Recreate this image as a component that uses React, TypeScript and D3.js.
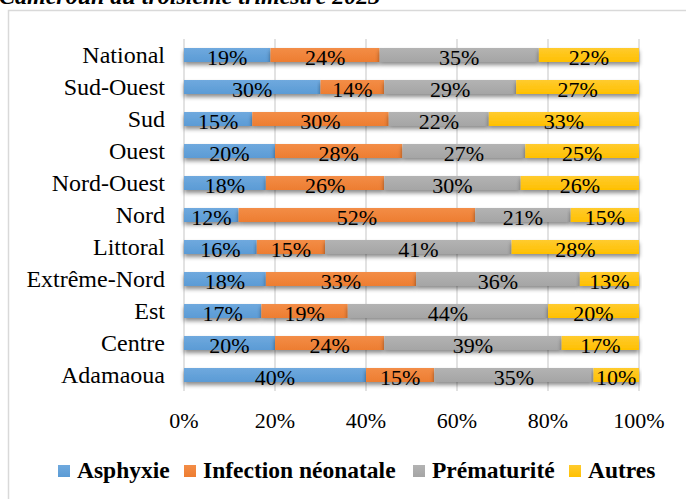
import React from "react";
import * as d3 from "d3";

const categories = ["National", "Sud-Ouest", "Sud", "Ouest", "Nord-Ouest", "Nord", "Littoral", "Extrême-Nord", "Est", "Centre", "Adamaoua"];
const seriesNames = ["Asphyxie", "Infection néonatale", "Prématurité", "Autres"];
const asphyxie = [19, 30, 15, 20, 18, 12, 16, 18, 17, 20, 40];
const infection = [24, 14, 30, 28, 26, 52, 15, 33, 19, 24, 15];
const prematurite = [35, 29, 22, 27, 30, 21, 41, 36, 44, 39, 35];
const autres = [22, 27, 33, 25, 26, 15, 28, 13, 20, 17, 10];
const xTicks = [0, 20, 40, 60, 80, 100];
const title = "Cameroun au troisième trimestre 2023";

const colors = ["#5B9BD5", "#ED7D31", "#A5A5A5", "#FFC000"];
const lightColors = ["#6FA9DE", "#F38D47", "#B3B3B3", "#FFCB2E"];

const W = 686;
const H = 499;
const FONT = `"Liberation Serif", "Times New Roman", monospace`;

export default function App() {
  const series = [asphyxie, infection, prematurite, autres];
  const x = d3.scaleLinear().domain([0, 100]).range([184, 639]);
  const y = d3
    .scaleBand<string>()
    .domain(categories)
    .range([39, 391])
    .paddingInner(0.5625)
    .paddingOuter(0.28125);

  const rows = categories.map((c, i) => {
    const vals = series.map((s) => s[i]);
    const stacked = d3.cumsum(vals);
    return vals.map((v, k) => ({
      cat: c,
      k,
      v,
      x0: k === 0 ? 0 : stacked[k - 1],
      x1: stacked[k],
    }));
  });

  const legendItems = [
    { sq: 58, tx: 77 },
    { sq: 184, tx: 203 },
    { sq: 413, tx: 432 },
    { sq: 569, tx: 588 },
  ];

  const txt = (size: number, bold = false, italic = false): React.CSSProperties => ({
    fontFamily: FONT,
    fontSize: size,
    fontWeight: bold ? "bold" : "normal",
    fontStyle: italic ? "italic" : "normal",
  });

  return (
    <svg
      width={W}
      height={H}
      style={{ position: "absolute", left: 0, top: 0, background: "#fff" }}
    >
      <defs>
        {colors.map((c, i) => (
          <linearGradient key={i} id={`g${i}`} x1="0" y1="0" x2="0" y2="1">
            <stop offset="0" stopColor={lightColors[i]} />
            <stop offset="1" stopColor={c} />
          </linearGradient>
        ))}
        <filter id="shadow" x="-5%" y="-40%" width="110%" height="200%">
          <feDropShadow dx="0" dy="3" stdDeviation="2" floodColor="#000" floodOpacity="0.45" />
        </filter>
      </defs>
      <rect x={0} y={0} width={W} height={H} fill="#fff" />
      <text x={-1} y={4} style={txt(24, true, true)} fill="#000">
        {title}
      </text>
      <rect x={8.5} y={10.5} width={720} height={520} fill="none" stroke="#d9d9d9" strokeWidth={1.5} />

      {xTicks.map((t) => (
        <line
          key={t}
          x1={x(t)}
          x2={x(t)}
          y1={39}
          y2={391}
          stroke="#d9d9d9"
          strokeWidth={1.5}
        />
      ))}

      {rows.map((row, i) =>
        row.map((d) => (
          <rect
            key={`${i}-${d.k}`}
            x={x(d.x0)}
            y={y(d.cat)}
            width={x(d.x1) - x(d.x0)}
            height={y.bandwidth()}
            fill={`url(#g${d.k})`}
            filter="url(#shadow)"
          />
        ))
      )}

      {rows.map((row, i) =>
        row.map((d) => (
          <text
            key={`l${i}-${d.k}`}
            x={(x(d.x0) + x(d.x1)) / 2}
            y={(y(d.cat) as number) + y.bandwidth() / 2 + 9.5}
            textAnchor="middle"
            style={txt(22)}
            fill="#000"
          >
            {d.v}%
          </text>
        ))
      )}

      {categories.map((c) => (
        <text
          key={c}
          x={165}
          y={(y(c) as number) + y.bandwidth() / 2 + 8}
          textAnchor="end"
          style={txt(24)}
          fill="#000"
        >
          {c}
        </text>
      ))}

      {xTicks.map((t) => (
        <text
          key={`t${t}`}
          x={x(t)}
          y={428}
          textAnchor="middle"
          style={txt(22)}
          fill="#000"
        >
          {t}%
        </text>
      ))}

      {seriesNames.map((n, i) => (
        <g key={n}>
          <rect x={legendItems[i].sq} y={465} width={12} height={12} fill={`url(#g${i})`} />
          <text x={legendItems[i].tx} y={478} style={txt(23.5, true)} fill="#000">
            {n}
          </text>
        </g>
      ))}
    </svg>
  );
}
